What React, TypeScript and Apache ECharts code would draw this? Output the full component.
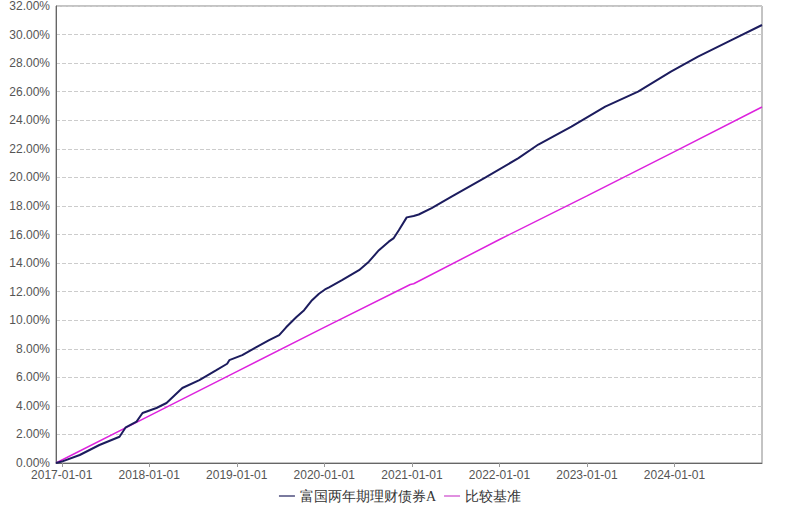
import React, { useEffect, useRef } from "react";
import * as echarts from "echarts";

const fundName = "富国两年期理财债券A";
const benchName = "比较基准";

const fundDates = [
  "2016-12-08", "2017-01-01", "2017-03-17", "2017-06-07", "2017-08-30", "2017-09-25",
  "2017-11-09", "2017-12-04", "2018-01-31", "2018-03-14", "2018-05-19", "2018-07-29",
  "2018-10-08", "2018-11-22", "2018-12-01", "2019-01-24", "2019-03-22", "2019-05-16",
  "2019-06-27", "2019-07-26", "2019-09-06", "2019-10-09", "2019-11-11", "2019-12-10",
  "2020-01-04", "2020-01-21", "2020-03-15", "2020-05-25", "2020-07-05", "2020-08-16",
  "2020-09-26", "2020-10-17", "2020-11-07", "2020-12-10", "2021-01-08", "2021-01-29",
  "2021-03-24", "2021-06-15", "2021-11-04", "2022-03-21", "2022-06-12", "2022-10-28",
  "2023-03-18", "2023-08-02", "2023-12-17", "2024-04-08", "2024-08-23", "2024-12-31",
];
const fundValues = [
  0.0, 0.1, 0.56, 1.26, 1.84, 2.5,
  2.9, 3.5, 3.85, 4.2, 5.25, 5.8,
  6.5, 6.95, 7.2, 7.55, 8.1, 8.6,
  8.95, 9.5, 10.2, 10.7, 11.4, 11.85,
  12.15, 12.3, 12.8, 13.5, 14.1, 14.9,
  15.5, 15.75, 16.3, 17.2, 17.3, 17.4,
  17.85, 18.65, 20.0, 21.35, 22.3, 23.55,
  24.95, 26.0, 27.4, 28.45, 29.6, 30.67,
];

const benchDates = [
  "2016-12-08", "2018-01-01", "2019-01-01", "2020-01-01", "2020-12-25",
  "2021-01-08", "2022-01-01", "2023-01-01", "2024-01-01", "2024-12-31",
];
const benchValues = [0.0, 3.3, 6.4, 9.5, 12.5, 12.55, 15.65, 18.7, 21.8, 24.93];

const yTicks = { min: 0, max: 32, interval: 2 };
const xRange = { min: "2016-12-08", max: "2024-12-31" };

function pad(n: number) {
  return n < 10 ? "0" + n : "" + n;
}

export default function App() {
  const ref = useRef<HTMLDivElement>(null);
  useEffect(() => {
    document.body.style.margin = "0";
    if (!ref.current) return;
    const chart = echarts.init(ref.current, null, { renderer: "svg" });
    const year = 365.25 * 24 * 3600 * 1000;
    chart.setOption({
      animation: false,
      backgroundColor: "#ffffff",
      grid: {
        left: 56,
        right: 38,
        top: 5,
        bottom: 49,
        show: true,
        borderColor: "#888888",
        borderWidth: 1,
        backgroundColor: "transparent",
      },
      legend: {
        bottom: 4,
        left: "center",
        itemWidth: 16,
        itemHeight: 10,
        itemGap: 8,
        textStyle: { fontSize: 14, color: "#333", fontFamily: "serif" },
        data: [
          { name: fundName, icon: "path://M0,4L16,4L16,6L0,6Z", itemStyle: { color: "#7a7a9e" } },
          { name: benchName, icon: "path://M0,4L16,4L16,6L0,6Z", itemStyle: { color: "#e090e0" } },
        ],
      },
      xAxis: {
        type: "time",
        min: xRange.min,
        max: xRange.max,
        splitNumber: 8,
        minInterval: year,
        maxInterval: year,
        axisLine: { show: true, lineStyle: { color: "#666", width: 1 } },
        axisTick: { show: true, length: 4, lineStyle: { color: "#999" } },
        splitLine: { show: false },
        axisLabel: {
          showMinLabel: false,
          showMaxLabel: false,
          color: "#555",
          fontSize: 12,
          fontFamily: "Liberation Sans, Arial, sans-serif",
          margin: 6,
          formatter: (v: number) => {
            const d = new Date(v);
            return d.getFullYear() + "-" + pad(d.getMonth() + 1) + "-" + pad(d.getDate());
          },
        },
      },
      yAxis: {
        type: "value",
        min: yTicks.min,
        max: yTicks.max,
        interval: yTicks.interval,
        axisLine: { show: true, lineStyle: { color: "#666", width: 1 } },
        axisTick: { show: false },
        splitLine: { show: true, lineStyle: { color: "#cccccc", type: "dashed", width: 1 } },
        axisLabel: {
          color: "#555",
          fontSize: 12,
          fontFamily: "Liberation Sans, Arial, sans-serif",
          margin: 6,
          formatter: (v: number) => v.toFixed(2) + "%",
        },
      },
      series: [
        {
          name: fundName,
          type: "line",
          showSymbol: false,
          symbol: "none",
          data: fundDates.map((d, i) => [d, fundValues[i]]),
          lineStyle: { color: "#1c1c5e", width: 2 },
          itemStyle: { color: "#1c1c5e" },
          z: 3,
        },
        {
          name: benchName,
          type: "line",
          showSymbol: false,
          symbol: "none",
          data: benchDates.map((d, i) => [d, benchValues[i]]),
          lineStyle: { color: "#dd22dd", width: 1.5 },
          itemStyle: { color: "#dd22dd" },
          z: 2,
        },
      ],
    });
    return () => chart.dispose();
  }, []);
  return <div ref={ref} style={{ width: 800, height: 512 }} />;
}
